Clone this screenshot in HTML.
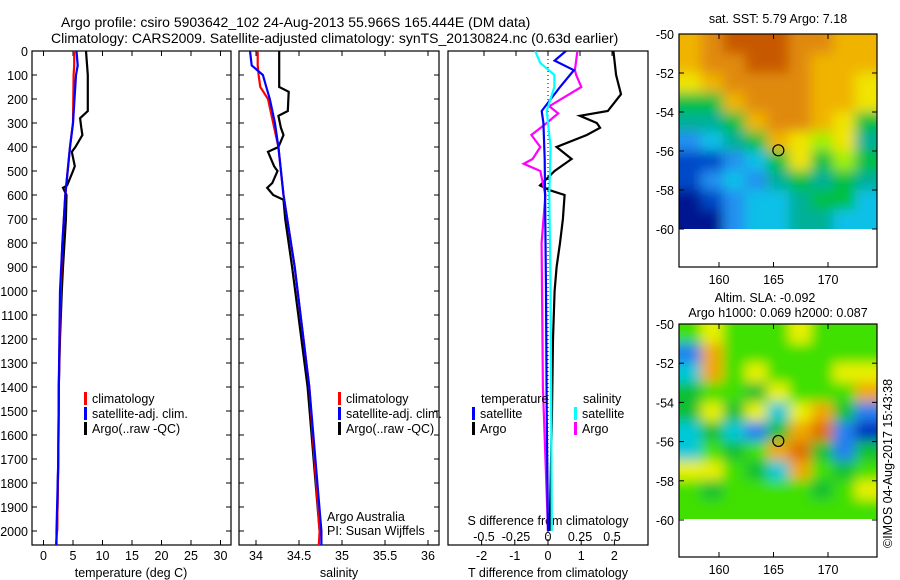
<!DOCTYPE html>
<html><head><meta charset="utf-8">
<style>
html,body{margin:0;padding:0;background:#fff;}
svg{display:block;font-family:"Liberation Sans",sans-serif;}
text{font-size:12.5px;fill:#000;}
</style></head>
<body>
<svg id="chart" width="900" height="580" viewBox="0 0 900 580">
<defs>
<filter id="blur1" filterUnits="userSpaceOnUse" x="650" y="0" width="250" height="290"><feGaussianBlur stdDeviation="6"/></filter>
<filter id="blur2" filterUnits="userSpaceOnUse" x="650" y="290" width="250" height="260"><feGaussianBlur stdDeviation="6"/></filter>
<clipPath id="clipMap1"><rect x="679" y="34" width="198" height="195"/></clipPath>
<clipPath id="clipMap2"><rect x="679" y="324" width="198" height="195"/></clipPath>
<clipPath id="clipP1"><rect x="32" y="51" width="199" height="494"/></clipPath>
<clipPath id="clipP2"><rect x="239" y="51" width="200" height="494"/></clipPath>
<clipPath id="clipP3"><rect x="448" y="51" width="200" height="494"/></clipPath>
</defs>
<text x="61" y="27" style="font-size:14px">Argo profile: csiro 5903642_102 24-Aug-2013 55.966S 165.444E (DM data)</text>
<text x="51" y="43" style="font-size:14px">Climatology: CARS2009. Satellite-adjusted climatology: synTS_20130824.nc (0.63d earlier)</text>
<g id="g1"></g>
<g id="g2"></g>
<g id="g3"></g>
<g id="m1"></g>
<g id="m2"></g>
<text transform="translate(892,548) rotate(-90)" style="font-size:12.5px">©IMOS 04-Aug-2017 15:43:38</text>
</svg>
<script>
// ---- data ----
const tDepth = [0,60,100,300,400,600,800,1000,1400,1700,2000,2060];
const tClim  = [5.2,5.2,5.1,5.0,4.5,3.7,3.2,2.9,2.6,2.5,2.3,2.1];
const tSat   = [5.6,5.8,5.5,5.0,4.5,3.7,3.2,2.8,2.6,2.5,2.2,2.2];
const aDepth = [0,100,250,280,320,350,400,420,480,500,560,570,600,700,900,1000,1200,1400,1700,2000];
const tArgo  = [7.2,7.5,7.5,6.2,6.4,6.6,5.4,4.8,5.3,5.0,4.0,3.3,3.9,3.8,3.3,3.1,2.8,2.6,2.5,2.3];
const sDepth = [0,60,100,150,200,300,400,600,900,1400,2000,2060];
const sClim  = [34.02,34.02,34.03,34.05,34.14,34.2,34.26,34.32,34.45,34.62,34.74,34.73];
const sSat   = [33.93,33.95,34.08,34.12,34.16,34.22,34.26,34.32,34.45,34.62,34.76,34.76];
const sArgo  = [34.27,34.27,34.38,34.37,34.26,34.29,34.32,34.26,34.14,34.21,34.25,34.19,34.13,34.2,34.32,34.34,34.42,34.6,34.74];
const sArgoD = [0,150,170,250,270,320,350,400,420,480,500,550,570,600,620,700,900,1400,2000];
const dDepth = [0,40,80,150,250,300,450,1000,1500,2000];
const dTsat  = [0.54,0.2,0.78,0.36,-0.19,-0.14,-0.1,-0.06,-0.04,0.0];
const dtDepth= [0,100,180,250,270,300,320,350,400,450,500,560,580,600,700,800,900,1000,1200,1500,2000];
const dTargo = [1.97,2.05,2.2,1.8,0.96,1.47,1.57,1.17,0.26,0.71,0.2,-0.24,0.05,0.5,0.45,0.36,0.26,0.2,0.15,0.12,0.05];
const dsDepth= [0,80,100,150,230,260,300,350,400,450,470,500,600,800,1400,2000];
const dSargo = [0.23,0.21,0.22,0.26,0.01,0.08,-0.01,-0.13,-0.06,-0.12,-0.19,-0.06,-0.02,-0.05,-0.04,0.0];
const dcDepth= [0,50,100,150,250,400,600,1000,2000];
const dSsat  = [-0.1,-0.06,0.05,0.05,-0.01,0.02,0.01,0.02,0.03];
const depthTicks = [0,100,200,300,400,500,600,700,800,900,1000,1100,1200,1300,1400,1500,1600,1700,1800,1900,2000];
const tempTicks = [0,5,10,15,20,25,30];
const salTicks = [34,34.5,35,35.5,36];
const salLabels = ["34","34.5","35","35.5","36"];
const tdTicks = [-2,-1,0,1,2];
const sdTicks = [-0.5,-0.25,0,0.25,0.5];
const latTicks = [-50,-52,-54,-56,-58,-60];
const lonTicks = [160,165,170];
const sstGrid = ["YODDDOOYY","YOODDOYYY","LYOOOOYYL","EEYOOOYYL","TTEYOOYLE","BCTEYLGLT","NNBCELEGE","NBCBTETET","VNBCCTEEC","VVBCCTTCC"];
const slaGrid = ["gygggyggg","boggggggg","cogygggyy","GggGygggo","GyGycyoGb","cGcbGorbn","cgGgorGbG","yygGcogGg","gGggggGgy","ggggggggg"];
const floatLon = 165.444, floatLat = -55.966;

// ---- scales ----
const yD = d => 51 + d*0.24;
const xT = t => 43.5 + t*5.9;
const xS = s => 256 + (s-34)*86;
const xTd = t => 548 + t*33.2;
const xSd = s => 548 + s*128;
const lonX = l => 719 + (l-160)*10.9;
const latY1 = l => 34 + (-50-l)*19.5;
const latY2 = l => 324 + (-50-l)*19.6;
const NS='http://www.w3.org/2000/svg';
function mk(parent,tag,attrs){const e=document.createElementNS(NS,tag);for(const k in attrs)e.setAttribute(k,attrs[k]);parent.appendChild(e);return e;}
function txt(parent,x,y,s,anchor){const e=mk(parent,'text',{x:x,y:y,'text-anchor':anchor||'start'});e.textContent=s;return e;}
function line(parent,xs,ds,fx,color,name,clip){
  const p=ds.map((d,i)=>fx(xs[i]).toFixed(1)+','+yD(d).toFixed(1)).join(' ');
  const e=mk(parent,'polyline',{points:p,fill:'none',stroke:color,'stroke-width':2.2,'clip-path':'url(#'+clip+')'});
  
  
  return e;
}
function frame(g,x,w,name){
  const r=mk(g,'rect',{x:x,y:51,width:w,height:494,fill:'none',stroke:'#000','stroke-width':1.2});
  
  
}
function legend(g,x,items,y0){
  items.forEach((it,i)=>{
    const y=y0+i*15;
    const b=mk(g,'rect',{x:x,y:y-11,width:3,height:13,fill:it[1]});
    
    
    const t=txt(g,x+8,y,it[0]);
    
    
  });
}

// ---- panel 1 ----
const g1=document.getElementById('g1');
frame(g1,32,199,'temperature-axes-frame');
depthTicks.forEach(d=>{
  const y=yD(d);
  mk(g1,'line',{x1:32,x2:37,y1:y,y2:y,stroke:'#000'});
  mk(g1,'line',{x1:226,x2:231,y1:y,y2:y,stroke:'#000'});
  mk(document.getElementById('g2'),'line',{x1:239,x2:244,y1:y,y2:y,stroke:'#000'});
  mk(document.getElementById('g2'),'line',{x1:434,x2:439,y1:y,y2:y,stroke:'#000'});
  const t=txt(g1,28,y+5,String(d),'end');
  
  
});
tempTicks.forEach(v=>{
  const x=xT(v);
  mk(g1,'line',{x1:x,x2:x,y1:51,y2:56,stroke:'#000'});
  mk(g1,'line',{x1:x,x2:x,y1:540,y2:545,stroke:'#000'});
  const t=txt(g1,x,560,String(v),'middle');
  
  
});
const tt=txt(g1,131,577,'temperature (deg C)','middle');


line(g1,tArgo,aDepth,xT,'#000','temperature-argo-line','clipP1');
line(g1,tClim,tDepth,xT,'#f00','temperature-climatology-line','clipP1');
line(g1,tSat,tDepth,xT,'#00f','temperature-satellite-line','clipP1');
legend(g1,84,[['climatology','#f00'],['satellite-adj. clim.','#00f'],['Argo(..raw -QC)','#000']],403);

// ---- panel 2 ----
const g2=document.getElementById('g2');
frame(g2,239,200,'salinity-axes-frame');
salTicks.forEach((v,i)=>{
  const x=xS(v);
  mk(g2,'line',{x1:x,x2:x,y1:51,y2:56,stroke:'#000'});
  mk(g2,'line',{x1:x,x2:x,y1:540,y2:545,stroke:'#000'});
  const t=txt(g2,x,560,salLabels[i],'middle');
  
  
});
const st=txt(g2,339,577,'salinity','middle');


line(g2,sArgo,sArgoD,xS,'#000','salinity-argo-line','clipP2');
line(g2,sClim,sDepth,xS,'#f00','salinity-climatology-line','clipP2');
line(g2,sSat,sDepth,xS,'#00f','salinity-satellite-line','clipP2');
legend(g2,338,[['climatology','#f00'],['satellite-adj. clim.','#00f'],['Argo(..raw -QC)','#000']],403);
const a1=txt(g2,327,521,'Argo Australia');
const a2=txt(g2,327,535,'PI: Susan Wijffels');

// ---- panel 3 ----
const g3=document.getElementById('g3');
frame(g3,448,200,'difference-axes-frame');
mk(g3,'line',{x1:548,x2:548,y1:51,y2:545,stroke:'#000','stroke-dasharray':'1,3'});
tdTicks.forEach(v=>{
  const x=xTd(v);
  mk(g3,'line',{x1:x,x2:x,y1:540,y2:545,stroke:'#000'});
  const t=txt(g3,x,560,String(v),'middle');
  
  
});
sdTicks.forEach(v=>{
  const x=xSd(v);
  mk(g3,'line',{x1:x,x2:x,y1:51,y2:56,stroke:'#000'});
  const t=txt(g3,x,541,String(v),'middle');
  
  
});
const t3=txt(g3,548,577,'T difference from climatology','middle');
const s3=txt(g3,548,525,'S difference from climatology','middle');
line(g3,dTargo,dtDepth,xTd,'#000','t-diff-argo-line','clipP3');
line(g3,dSargo,dsDepth,xSd,'#f0f','s-diff-argo-line','clipP3');
line(g3,dTsat,dDepth,xTd,'#00f','t-diff-satellite-line','clipP3');
line(g3,dSsat,dcDepth,xSd,'#0ff','s-diff-satellite-line','clipP3');
const lt=txt(g3,481,403,'temperature');
const ls=txt(g3,583,403,'salinity');
legend(g3,472,[['satellite','#00f'],['Argo','#000']],418);
legend(g3,574,[['satellite','#0ff'],['Argo','#f0f']],418);

// ---- maps ----
const sstCol={D:'#c85800',O:'#e08a10',Y:'#f0b400',L:'#f0e400',G:'#a0f000',E:'#00c040',T:'#00b098',C:'#10c0e8',B:'#2090f0',N:'#0048c8',V:'#001890'};
const slaCol={g:'#40e000',G:'#10c030',y:'#e8f000',o:'#f0a800',r:'#e07000',c:'#00c8d8',b:'#2080f0',n:'#0030c0'};
function drawMap(id,grid,cols,top,latY,clip,filt){
  const g=document.getElementById(id);
  const gg=mk(g,'g',{'clip-path':'url(#'+clip+')'});
  const inner=mk(gg,'g',{filter:'url(#'+filt+')'});
  const nr=grid.length,nc=grid[0].length,w=198/nc,h=195/nr;
  for(let r=0;r<nr;r++)for(let c=0;c<nc;c++){
    let x=679+c*w,y=top+r*h,ww=w+0.5,hh=h+0.5;
    if(c===0){x-=15;ww+=15;} if(c===nc-1){ww+=15;}
    if(r===0){y-=15;hh+=15;} if(r===nr-1){hh+=15;}
    const cell=mk(inner,'rect',{x:x,y:y,width:ww,height:hh,fill:cols[grid[r][c]]});
    
    
  }
  const fr=mk(g,'rect',{x:679,y:top,width:198,height:233,fill:'none',stroke:'#000','stroke-width':1.2});
  
  
  latTicks.forEach(l=>{const y=latY(l);mk(g,'line',{x1:679,x2:684,y1:y,y2:y,stroke:'#000'});mk(g,'line',{x1:872,x2:877,y1:y,y2:y,stroke:'#000'});
    const t=txt(g,674,y+5,String(l),'end');});
  lonTicks.forEach(l=>{const x=lonX(l);mk(g,'line',{x1:x,x2:x,y1:top,y2:top+5,stroke:'#000'});mk(g,'line',{x1:x,x2:x,y1:top+228,y2:top+233,stroke:'#000'});
    const t=txt(g,x,top+250,String(l),'middle');});
  const c=mk(g,'circle',{cx:lonX(floatLon),cy:latY(floatLat),r:5.5,fill:'none',stroke:'#000','stroke-width':1.2});
  
  
}
drawMap('m1',sstGrid,sstCol,34,latY1,'clipMap1','blur1');
drawMap('m2',slaGrid,slaCol,324,latY2,'clipMap2','blur2');
const m1t=txt(document.getElementById('m1'),778,23,'sat. SST: 5.79 Argo: 7.18','middle');
const m2a=txt(document.getElementById('m2'),765,302,'Altim. SLA: -0.092','middle');
const m2b=txt(document.getElementById('m2'),778,317,'Argo h1000: 0.069 h2000: 0.087','middle');
</script>
</body></html>
